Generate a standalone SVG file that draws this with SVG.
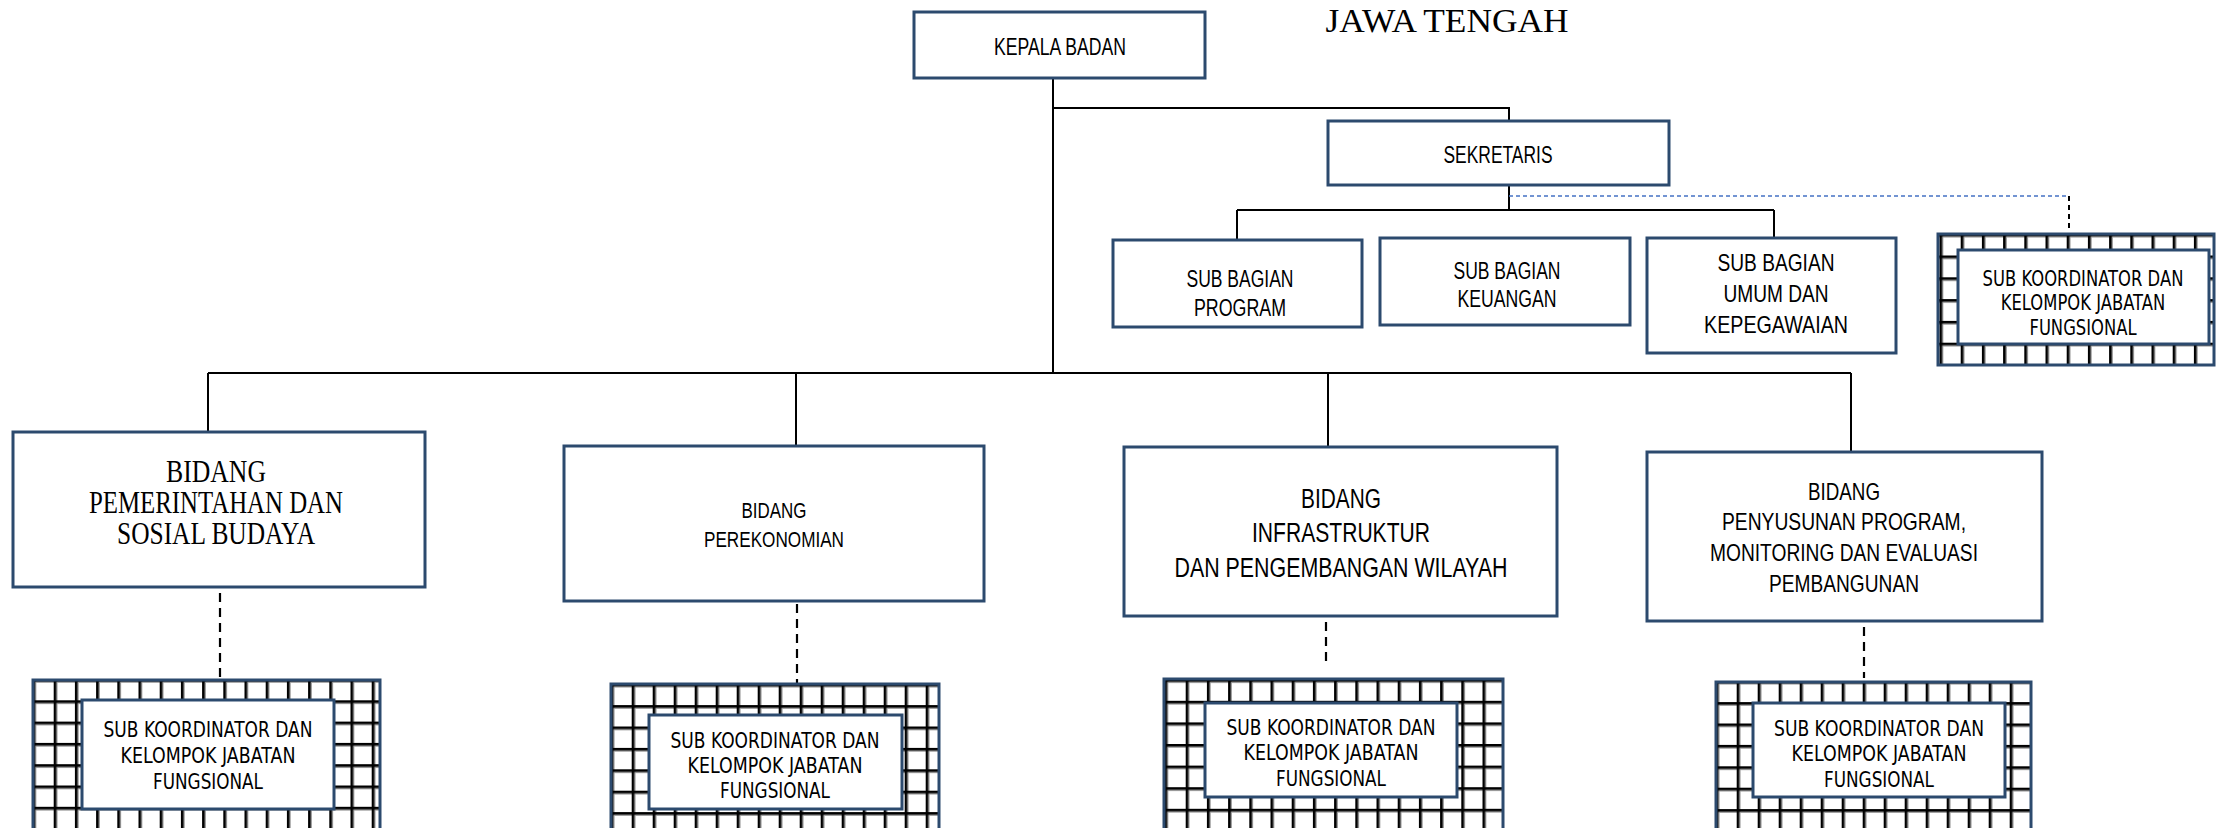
<svg xmlns="http://www.w3.org/2000/svg" width="2216" height="828" viewBox="0 0 2216 828">
<style>
.box{fill:#fff;stroke:#2C4A6E;stroke-width:3}
.hbox{stroke:#2C4A6E;stroke-width:3}
.n{font-family:"Liberation Sans",Arial,sans-serif;fill:#000;text-anchor:middle}
.s{font-family:"Liberation Serif","Times New Roman",serif;fill:#000;text-anchor:middle}
.t{font-family:"DejaVu Sans",Tahoma,sans-serif;fill:#000;text-anchor:middle;font-size:20.5px}
.ln{stroke:#000;stroke-width:2;fill:none}
.dl{stroke:#000;stroke-width:2.2;fill:none;stroke-dasharray:9 6}
.bl{stroke:#4472C4;stroke-width:1.6;fill:none;stroke-dasharray:4 3}
</style>
<defs>
<pattern id="p1" patternUnits="userSpaceOnUse" x="32.5" y="679" width="21.2" height="21.3">
<rect width="21.2" height="21.3" fill="#fff"/><rect x="2.6" width="1.2" height="21.3" fill="#999"/><rect y="2.6" width="21.2" height="1.2" fill="#999"/><rect width="2.6" height="21.3" fill="#000"/><rect width="21.2" height="2.6" fill="#000"/>
</pattern>
<pattern id="p2" patternUnits="userSpaceOnUse" x="610.7" y="683.7" width="21" height="21.4">
<rect width="21" height="21.4" fill="#fff"/><rect x="2.6" width="1.2" height="21.4" fill="#999"/><rect y="2.6" width="21" height="1.2" fill="#999"/><rect width="2.6" height="21.4" fill="#000"/><rect width="21" height="2.6" fill="#000"/>
</pattern>
<pattern id="p3" patternUnits="userSpaceOnUse" x="1164.5" y="679.2" width="21.2" height="21.6">
<rect width="21.2" height="21.6" fill="#fff"/><rect x="2.6" width="1.2" height="21.6" fill="#999"/><rect y="2.6" width="21.2" height="1.2" fill="#999"/><rect width="2.6" height="21.6" fill="#000"/><rect width="21.2" height="2.6" fill="#000"/>
</pattern>
<pattern id="p4" patternUnits="userSpaceOnUse" x="1715.7" y="680.7" width="21" height="21.4">
<rect width="21" height="21.4" fill="#fff"/><rect x="2.6" width="1.2" height="21.4" fill="#999"/><rect y="2.6" width="21" height="1.2" fill="#999"/><rect width="2.6" height="21.4" fill="#000"/><rect width="21" height="2.6" fill="#000"/>
</pattern>
<pattern id="p5" patternUnits="userSpaceOnUse" x="1939.5" y="233.7" width="21.2" height="21.8">
<rect width="21.2" height="21.8" fill="#fff"/><rect x="2.6" width="1.2" height="21.8" fill="#999"/><rect y="2.6" width="21.2" height="1.2" fill="#999"/><rect width="2.6" height="21.8" fill="#000"/><rect width="21.2" height="2.6" fill="#000"/>
</pattern>
</defs>
<rect width="2216" height="828" fill="#fff"/>

<text class="s" x="1447" y="32" font-size="33" textLength="243" lengthAdjust="spacingAndGlyphs">JAWA TENGAH</text>

<g id="connectors">
<path class="ln" d="M1053 64V373M1053 108H1509V129"/>
<path class="ln" d="M1509 185V210M1237 210H1774M1237 210V240M1774 210V237"/>
<path class="bl" d="M1509 196H2069"/>
<path class="ln" d="M2069 196V232" stroke-dasharray="5 4" stroke-width="1.5"/>
<path class="ln" d="M208 373H1851M208 373V432M796 373V446M1328 373V447M1851 373V452"/>
<path class="dl" d="M220 593V680"/>
<path class="dl" d="M797 604V686"/>
<path class="dl" d="M1326 622V667"/>
<path class="dl" d="M1864 627V678"/>
</g>

<g id="kepala-badan">
<rect class="box" x="914" y="12" width="291" height="66"/>
<text class="n" x="1060" y="55" font-size="23.5" textLength="132" lengthAdjust="spacingAndGlyphs">KEPALA BADAN</text>
</g>

<g id="sekretaris">
<rect class="box" x="1328" y="121" width="341" height="64"/>
<text class="n" x="1498" y="163" font-size="23" textLength="109" lengthAdjust="spacingAndGlyphs">SEKRETARIS</text>
</g>

<g id="sub-bagian-program">
<rect class="box" x="1113" y="240" width="249" height="87"/>
<text class="n" x="1240" y="287" font-size="23.5" textLength="107" lengthAdjust="spacingAndGlyphs">SUB BAGIAN</text>
<text class="n" x="1240" y="316" font-size="23.5" textLength="92" lengthAdjust="spacingAndGlyphs">PROGRAM</text>
</g>

<g id="sub-bagian-keuangan">
<rect class="box" x="1380" y="238" width="250" height="87"/>
<text class="n" x="1507" y="279" font-size="23.5" textLength="107" lengthAdjust="spacingAndGlyphs">SUB BAGIAN</text>
<text class="n" x="1507" y="307" font-size="23.5" textLength="99" lengthAdjust="spacingAndGlyphs">KEUANGAN</text>
</g>

<g id="sub-bagian-umum">
<rect class="box" x="1647" y="238" width="249" height="115"/>
<text class="n" x="1776" y="271" font-size="24" textLength="117" lengthAdjust="spacingAndGlyphs">SUB BAGIAN</text>
<text class="n" x="1776" y="302" font-size="24" textLength="105" lengthAdjust="spacingAndGlyphs">UMUM DAN</text>
<text class="n" x="1776" y="333" font-size="24" textLength="144" lengthAdjust="spacingAndGlyphs">KEPEGAWAIAN</text>
</g>

<g id="subkoor-sekretariat">
<rect class="hbox" x="1938" y="234" width="276" height="131" fill="url(#p5)"/>
<rect class="box" x="1958" y="250" width="251" height="94"/>
<g transform="translate(2083 0) scale(0.8 1)">
<text class="t" x="0" y="286" font-size="21">SUB KOORDINATOR DAN</text>
<text class="t" x="0" y="310" font-size="21">KELOMPOK JABATAN</text>
<text class="t" x="0" y="335" font-size="21">FUNGSIONAL</text>
</g>
</g>

<g id="bidang-pemerintahan">
<rect class="box" x="13" y="432" width="412" height="155"/>
<text class="s" x="216" y="482" font-size="31" textLength="100" lengthAdjust="spacingAndGlyphs">BIDANG</text>
<text class="s" x="216" y="513" font-size="31" textLength="254" lengthAdjust="spacingAndGlyphs">PEMERINTAHAN DAN</text>
<text class="s" x="216" y="544" font-size="31" textLength="198" lengthAdjust="spacingAndGlyphs">SOSIAL BUDAYA</text>
</g>

<g id="bidang-perekonomian">
<rect class="box" x="564" y="446" width="420" height="155"/>
<text class="n" x="774" y="518" font-size="22" textLength="65" lengthAdjust="spacingAndGlyphs">BIDANG</text>
<text class="n" x="774" y="547" font-size="22" textLength="140" lengthAdjust="spacingAndGlyphs">PEREKONOMIAN</text>
</g>

<g id="bidang-infrastruktur">
<rect class="box" x="1124" y="447" width="433" height="169"/>
<text class="n" x="1341" y="508" font-size="27" textLength="80" lengthAdjust="spacingAndGlyphs">BIDANG</text>
<text class="n" x="1341" y="542" font-size="27" textLength="178" lengthAdjust="spacingAndGlyphs">INFRASTRUKTUR</text>
<text class="n" x="1341" y="577" font-size="27" textLength="333" lengthAdjust="spacingAndGlyphs">DAN PENGEMBANGAN WILAYAH</text>
</g>

<g id="bidang-penyusunan">
<rect class="box" x="1647" y="452" width="395" height="169"/>
<text class="n" x="1844" y="500" font-size="24.5" textLength="72" lengthAdjust="spacingAndGlyphs">BIDANG</text>
<text class="n" x="1844" y="530" font-size="24.5" textLength="244" lengthAdjust="spacingAndGlyphs">PENYUSUNAN PROGRAM,</text>
<text class="n" x="1844" y="561" font-size="24.5" textLength="268" lengthAdjust="spacingAndGlyphs">MONITORING DAN EVALUASI</text>
<text class="n" x="1844" y="592" font-size="24.5" textLength="150" lengthAdjust="spacingAndGlyphs">PEMBANGUNAN</text>
</g>

<g id="subkoor-pemerintahan">
<rect class="hbox" x="33" y="680" width="347" height="160" fill="url(#p1)"/>
<rect class="box" x="82" y="700" width="252" height="109"/>
<text class="t" x="208" y="737" textLength="209" lengthAdjust="spacingAndGlyphs">SUB KOORDINATOR DAN</text>
<text class="t" x="208" y="763" textLength="175" lengthAdjust="spacingAndGlyphs">KELOMPOK JABATAN</text>
<text class="t" x="208" y="789" textLength="110" lengthAdjust="spacingAndGlyphs">FUNGSIONAL</text>
</g>

<g id="subkoor-perekonomian">
<rect class="hbox" x="611" y="684" width="328" height="160" fill="url(#p2)"/>
<rect class="box" x="649" y="715" width="253" height="94"/>
<text class="t" x="775" y="748" textLength="209" lengthAdjust="spacingAndGlyphs">SUB KOORDINATOR DAN</text>
<text class="t" x="775" y="773" textLength="175" lengthAdjust="spacingAndGlyphs">KELOMPOK JABATAN</text>
<text class="t" x="775" y="798" textLength="110" lengthAdjust="spacingAndGlyphs">FUNGSIONAL</text>
</g>

<g id="subkoor-infrastruktur">
<rect class="hbox" x="1164" y="679" width="339" height="160" fill="url(#p3)"/>
<rect class="box" x="1205" y="703" width="252" height="94"/>
<text class="t" x="1331" y="735" textLength="209" lengthAdjust="spacingAndGlyphs">SUB KOORDINATOR DAN</text>
<text class="t" x="1331" y="760" textLength="175" lengthAdjust="spacingAndGlyphs">KELOMPOK JABATAN</text>
<text class="t" x="1331" y="786" textLength="110" lengthAdjust="spacingAndGlyphs">FUNGSIONAL</text>
</g>

<g id="subkoor-penyusunan">
<rect class="hbox" x="1716" y="682" width="315" height="160" fill="url(#p4)"/>
<rect class="box" x="1753" y="703" width="252" height="94"/>
<text class="t" x="1879" y="736" textLength="210" lengthAdjust="spacingAndGlyphs">SUB KOORDINATOR DAN</text>
<text class="t" x="1879" y="761" textLength="175" lengthAdjust="spacingAndGlyphs">KELOMPOK JABATAN</text>
<text class="t" x="1879" y="787" textLength="110" lengthAdjust="spacingAndGlyphs">FUNGSIONAL</text>
</g>
</svg>
